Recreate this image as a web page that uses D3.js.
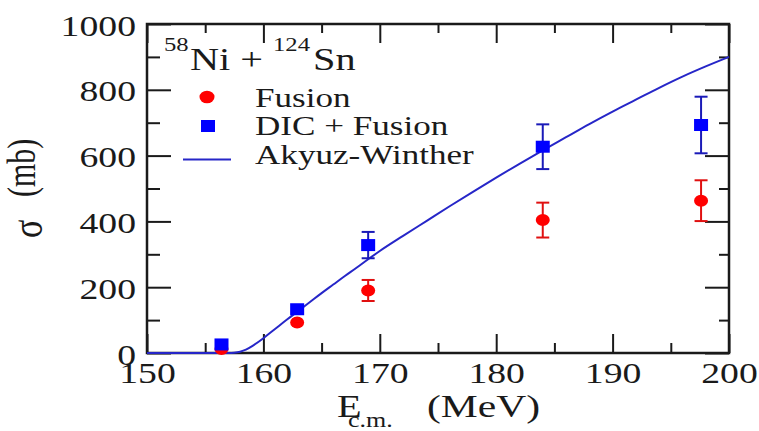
<!DOCTYPE html>
<meta charset="utf-8">
<script src="https://d3js.org/d3.v7.min.js"></script>
<body style="margin:0; background:#fff">
<script>

// DATA

var energy = [156.4, 162.9, 169.0, 184.0, 197.6];
var fusion = [12, 93, 190, 404, 463];
var fusionErr = [0, 0, 32, 53, 62];
var dicFusion = [26, 133, 328, 627, 693];
var dicErr = [0, 0, 40, 68, 86];

// Akyuz-Winther calculation
var awE = [150, 155, 157, 157.5, 158, 158.5, 159, 159.5, 160, 161, 162, 163, 164, 165, 166, 167, 168, 169, 170,
           172, 174, 176, 178, 180, 182, 184, 186, 188, 190, 192, 194, 196, 198, 200];
var awSigma = [0, 0, 0, 1, 4, 10, 20, 32, 45, 73, 101, 128, 155, 182, 208, 234, 259, 285, 310,
               356, 401, 446, 490, 533, 575, 616, 656, 696, 734, 770, 806, 840, 871, 900];

var xMajor = [150, 160, 170, 180, 190, 200];
var xMinor = [155, 165, 175, 185, 195];
var yMajor = [0, 200, 400, 600, 800, 1000];
var yMinor = [100, 300, 500, 700, 900];

var width = 759;
var height = 431;
var margin = {top: 24, left: 147, right: 30, bottom: 78};
var sx = 1.3; // the picture is stretched horizontally
var serif = "Liberation Serif";
var ink = "#1a1a1a";

var svg = d3.select("body").append("svg")
    .attr("width", width)
    .attr("height", height);

// SCALES

var x = d3.scaleLinear().domain([150, 200]).range([margin.left, width - margin.right]);
var y = d3.scaleLinear().domain([0, 1000]).range([height - margin.bottom, margin.top]);

// AXES (ticks point inward on all four sides)

function noLabels(a) { return a.tickFormat(""); }

function addAxis(axis, tx, ty) {
  var g = svg.append("g")
      .attr("transform", "translate(" + tx + "," + ty + ")")
      .call(axis);
  g.select(".domain").remove();
  g.attr("font-family", serif);
  g.selectAll("line").attr("stroke", ink).attr("stroke-width", 2);
  return g;
}

var left = addAxis(d3.axisLeft(y).tickValues(yMajor).tickSize(-24).tickFormat(d3.format("d")), x(150), 0);
addAxis(noLabels(d3.axisLeft(y).tickValues(yMinor).tickSize(-13)), x(150), 0);
addAxis(noLabels(d3.axisRight(y).tickValues(yMajor).tickSize(-24)), x(200), 0);
addAxis(noLabels(d3.axisRight(y).tickValues(yMinor).tickSize(-10)), x(200), 0);
var bottom = addAxis(d3.axisBottom(x).tickValues(xMajor).tickSize(-19).tickFormat(d3.format("d")), 0, y(0));
addAxis(noLabels(d3.axisBottom(x).tickValues(xMinor).tickSize(-10)), 0, y(0));
addAxis(noLabels(d3.axisTop(x).tickValues(xMajor).tickSize(-19)), 0, y(1000));
addAxis(noLabels(d3.axisTop(x).tickValues(xMinor).tickSize(-9)), 0, y(1000));

left.selectAll("text")
    .attr("x", 0).attr("dy", null)
    .attr("text-anchor", "end")
    .attr("transform", "translate(-11,11) scale(" + sx + ",1)");

bottom.selectAll("text")
    .attr("y", 0).attr("dy", null)
    .attr("transform", "translate(0,30) scale(" + sx + ",1)");

svg.selectAll(".tick text")
    .attr("font-family", serif)
    .attr("font-size", 29)
    .attr("fill", ink);

// FRAME

svg.append("rect")
    .attr("x", x(150)).attr("y", y(1000))
    .attr("width", x(200) - x(150)).attr("height", y(0) - y(1000))
    .attr("fill", "none").attr("stroke", ink).attr("stroke-width", 2.5);

// CURVE

var line = d3.line()
    .x(function(d) { return x(d[0]); })
    .y(function(d) { return y(d[1]); })
    .curve(d3.curveMonotoneX);

svg.append("path")
    .datum(awE.map(function(e, i) { return [e, awSigma[i]]; }))
    .attr("d", line)
    .attr("fill", "none")
    .attr("stroke", "#2626c8")
    .attr("stroke-width", 2);

// ERROR BARS + POINTS

function errorBars(vals, errs, color) {
  var d = energy.map(function(e, i) { return {e: e, v: vals[i], err: errs[i]}; })
    .filter(function(p) { return p.err > 0; });
  var g = svg.append("g").attr("stroke", color).attr("stroke-width", 2);
  g.selectAll(".bar").data(d).enter().append("line")
      .attr("x1", function(p) { return x(p.e); }).attr("x2", function(p) { return x(p.e); })
      .attr("y1", function(p) { return y(p.v - p.err); }).attr("y2", function(p) { return y(p.v + p.err); });
  [-1, 1].forEach(function(s) {
    g.selectAll(".cap" + s).data(d).enter().append("line")
        .attr("x1", function(p) { return x(p.e) - 6.5; }).attr("x2", function(p) { return x(p.e) + 6.5; })
        .attr("y1", function(p) { return y(p.v + s * p.err); }).attr("y2", function(p) { return y(p.v + s * p.err); });
  });
}

errorBars(fusion, fusionErr, "#e01010");
errorBars(dicFusion, dicErr, "#1a1ab8");

svg.append("g").selectAll("ellipse")
    .data(energy.map(function(e, i) { return [e, fusion[i]]; }))
    .enter().append("ellipse")
      .attr("cx", function(d) { return x(d[0]); })
      .attr("cy", function(d) { return y(d[1]); })
      .attr("rx", 7).attr("ry", 6)
      .attr("fill", "#ff0000");

svg.append("g").selectAll("rect")
    .data(energy.map(function(e, i) { return [e, dicFusion[i]]; }))
    .enter().append("rect")
      .attr("x", function(d) { return x(d[0]) - 7; })
      .attr("y", function(d) { return y(d[1]) - 6; })
      .attr("width", 14).attr("height", 12)
      .attr("fill", "#0000ff");

// TEXT HELPER

function label(str, tx, ty, size, extra) {
  return svg.append("text")
      .attr("transform", "translate(" + tx + "," + ty + ") scale(" + sx + ",1)" + (extra || ""))
      .attr("font-family", serif)
      .attr("font-size", size)
      .attr("fill", ink)
      .text(str);
}

// LEGEND

label("58", 164, 51, 19);
label("Ni +", 190, 70, 31);
label("124", 273, 51, 19);
label("Sn", 313, 70, 31);

svg.append("ellipse").attr("cx", 207).attr("cy", 97).attr("rx", 7.5).attr("ry", 6.3).attr("fill", "#ff0000");
svg.append("rect").attr("x", 201).attr("y", 120).attr("width", 14).attr("height", 12).attr("fill", "#0000ff");
svg.append("line").attr("x1", 183).attr("x2", 231).attr("y1", 159.5).attr("y2", 159.5)
    .attr("stroke", "#2626c8").attr("stroke-width", 2);

label("Fusion", 255, 107, 27);
label("DIC + Fusion", 255, 135, 27);
label("Akyuz-Winther", 255, 164, 27);

// AXIS TITLES

label("E", 337, 417, 31);
label("c.m.", 348, 427, 20);
label("(MeV)", 427, 417, 32);

label("\u03c3", 42, 238, 34, " rotate(-90)");
label("(mb)", 35, 197, 30, " rotate(-90)");

</script>
